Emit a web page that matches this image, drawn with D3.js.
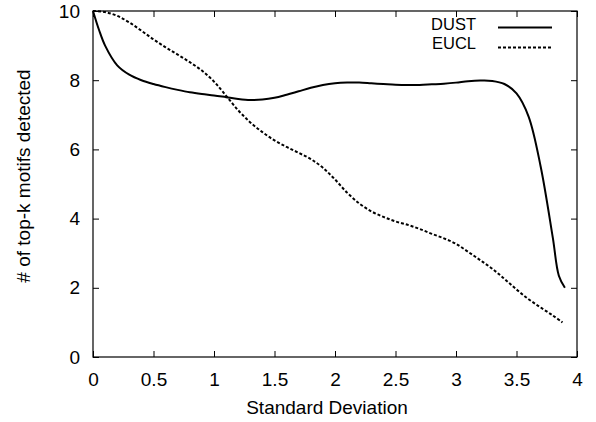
<!DOCTYPE html>
<html>
<head>
<meta charset="utf-8">
<script src="https://cdn.jsdelivr.net/npm/d3@7"></script>
<style>
  html, body { margin: 0; padding: 0; background: #fff; }
  svg { display: block; }
  text { font-family: "Liberation Sans", Arial, sans-serif; fill: #000; }
</style>
</head>
<body>
<svg id="chart" width="596" height="422"></svg>
<script>
// ---- data ----
const dustX = [0, 0.05, 0.1, 0.2, 0.3, 0.4, 0.5, 0.6, 0.7, 0.8, 0.9, 1.0, 1.1, 1.2, 1.3, 1.4, 1.5, 1.6, 1.7, 1.8, 1.9, 2.0, 2.1, 2.2, 2.3, 2.4, 2.5, 2.6, 2.7, 2.8, 2.9, 3.0, 3.1, 3.2, 3.3, 3.4, 3.5, 3.6, 3.7, 3.8, 3.85, 3.9];
const dustY = [10, 9.45, 9.0, 8.43, 8.16, 8.0, 7.89, 7.8, 7.72, 7.65, 7.6, 7.56, 7.51, 7.46, 7.43, 7.44, 7.49, 7.58, 7.68, 7.78, 7.86, 7.91, 7.93, 7.93, 7.91, 7.89, 7.87, 7.86, 7.86, 7.88, 7.9, 7.93, 7.97, 7.99, 7.98, 7.89, 7.62, 6.95, 5.5, 3.45, 2.35, 2.0];
const euclX = [0, 0.1, 0.2, 0.3, 0.4, 0.5, 0.6, 0.7, 0.8, 0.9, 1.0, 1.1, 1.2, 1.3, 1.4, 1.5, 1.6, 1.7, 1.8, 1.9, 2.0, 2.1, 2.2, 2.3, 2.4, 2.5, 2.6, 2.7, 2.8, 2.9, 3.0, 3.1, 3.2, 3.3, 3.4, 3.5, 3.6, 3.7, 3.8, 3.88];
const euclY = [10, 9.97, 9.86, 9.67, 9.43, 9.18, 8.95, 8.74, 8.52, 8.28, 7.96, 7.55, 7.13, 6.78, 6.5, 6.26, 6.07, 5.9, 5.72, 5.47, 5.13, 4.75, 4.44, 4.21, 4.05, 3.92, 3.82, 3.7, 3.56, 3.43, 3.27, 3.04, 2.8, 2.55, 2.26, 1.95, 1.67, 1.43, 1.2, 1.0];
const seriesNames = ["DUST", "EUCL"];
const xTicks = [0, 0.5, 1, 1.5, 2, 2.5, 3, 3.5, 4];
const xTickLabels = ["0", "0.5", "1", "1.5", "2", "2.5", "3", "3.5", "4"];
const yTicks = [0, 2, 4, 6, 8, 10];
const yTickLabels = ["0", "2", "4", "6", "8", "10"];
const xTitle = "Standard Deviation";
const yTitle = "# of top-k motifs detected";

// ---- layout ----
const W = 596, H = 422;
const m = { left: 93, right: 19, top: 11, bottom: 65 };
const svg = d3.select("#chart");
const x = d3.scaleLinear().domain([0, 4]).range([m.left, W - m.right]);
const y = d3.scaleLinear().domain([0, 10]).range([H - m.bottom, m.top]);
const fs = 19;
const legFs = 16.5;
const tickLen = 6;

// axes (ticks inward, mirrored)
const axB = svg.append("g").attr("transform", `translate(0,${y(0)})`)
  .call(d3.axisBottom(x).tickValues(xTicks).tickFormat((d, i) => xTickLabels[i]).tickSizeInner(-tickLen).tickSizeOuter(0).tickPadding(tickLen + 10));
const axT = svg.append("g").attr("transform", `translate(0,${y(10)})`)
  .call(d3.axisTop(x).tickValues(xTicks).tickFormat("").tickSizeInner(-tickLen).tickSizeOuter(0));
const axL = svg.append("g").attr("transform", `translate(${x(0)},0)`)
  .call(d3.axisLeft(y).tickValues(yTicks).tickFormat((d, i) => yTickLabels[i]).tickSizeInner(-tickLen).tickSizeOuter(0).tickPadding(tickLen + 7));
const axR = svg.append("g").attr("transform", `translate(${x(4)},0)`)
  .call(d3.axisRight(y).tickValues(yTicks).tickFormat("").tickSizeInner(-tickLen).tickSizeOuter(0));
[axB, axT, axL, axR].forEach(a => {
  a.select(".domain").remove();
  a.selectAll(".tick line").attr("stroke", "#000").attr("stroke-width", 1);
  a.selectAll("text").attr("font-size", fs).attr("font-family", "Liberation Sans, Arial, sans-serif").attr("fill", "#000");
});

// frame
svg.append("rect")
  .attr("x", x(0)).attr("y", y(10))
  .attr("width", x(4) - x(0)).attr("height", y(0) - y(10))
  .attr("fill", "none").attr("stroke", "#000").attr("stroke-width", 1.2);

// lines
const line = d3.line().x(d => x(d[0])).y(d => y(d[1])).curve(d3.curveCatmullRom.alpha(0.5));
const dust = dustX.map((v, i) => [v, dustY[i]]);
const eucl = euclX.map((v, i) => [v, euclY[i]]);
svg.append("path").datum(dust).attr("d", line)
  .attr("fill", "none").attr("stroke", "#000").attr("stroke-width", 2);
svg.append("path").datum(eucl).attr("d", line)
  .attr("fill", "none").attr("stroke", "#000").attr("stroke-width", 2)
  .attr("stroke-dasharray", "3,2");

// legend
const leg = [{ name: seriesNames[0], dash: null, ty: 29.5, ly: 27.5 }, { name: seriesNames[1], dash: "3,2", ty: 48.8, ly: 47.5 }];
leg.forEach(l => {
  svg.append("text").attr("x", 476).attr("y", l.ty).attr("text-anchor", "end")
    .attr("font-size", legFs).text(l.name);
  const ln = svg.append("line").attr("x1", 498).attr("x2", 552).attr("y1", l.ly).attr("y2", l.ly)
    .attr("stroke", "#000").attr("stroke-width", 2);
  if (l.dash) ln.attr("stroke-dasharray", l.dash);
});

// titles
svg.append("text").attr("x", 327).attr("y", 414).attr("text-anchor", "middle")
  .attr("font-size", fs).text(xTitle);
svg.append("text").attr("transform", `translate(30,176) rotate(-90)`)
  .attr("text-anchor", "middle").attr("font-size", fs).text(yTitle);
</script>
</body>
</html>
